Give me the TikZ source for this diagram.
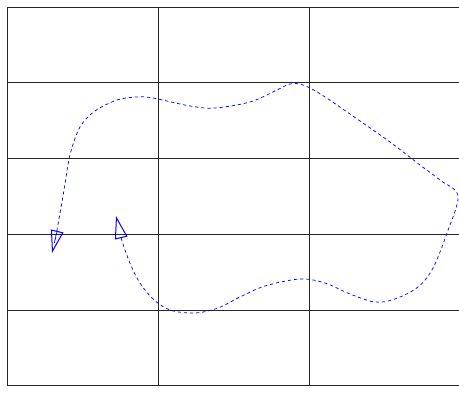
\documentclass[tikz,border=0pt]{standalone}
\usetikzlibrary{arrows.meta}

\begin{document}
\begin{tikzpicture}[x=0.75pt, y=-0.75pt,
  gridline/.style={draw=black!85, line width=0.75pt},
  route/.style={draw=blue, line width=0.55pt, dash pattern=on 2.4pt off 2.2pt,
    {Triangle[open, length=17pt, width=9.5pt, line width=0.75pt]}-{Triangle[open, length=17pt, width=9.5pt, line width=0.75pt]}}]
\useasboundingbox (0,0) rectangle (459,392);
% grid
\foreach \gx in {7,158,309,460} \draw[gridline] (\gx,8) -- (\gx,385);
\foreach \gy in {8,83,158,234,310,385} \draw[gridline] (7,\gy) -- (460,\gy);
% dashed route
\coordinate (start) at (116,216);
\coordinate (finish) at (52,253);
\draw[route] plot[smooth, tension=0.55] coordinates {(start) (125,250) (137,278) (152,298) (170,310)
  (195,313) (218,308) (240,297) (265,286) (300,279) (325,283) (350,294) (375,302) (395,299)
  (418,287) (433,268) (447,233) (458,196) (440,180) (420,165) (390,142) (360,121) (322,95)
  (303,85) (290,84) (275,91) (250,102) (215,108) (190,106) (153,98) (137,97) (117,100) (95,111)
  (80,127) (70,155) (64,190) (57,230) (finish)};
\end{tikzpicture}
\end{document}
